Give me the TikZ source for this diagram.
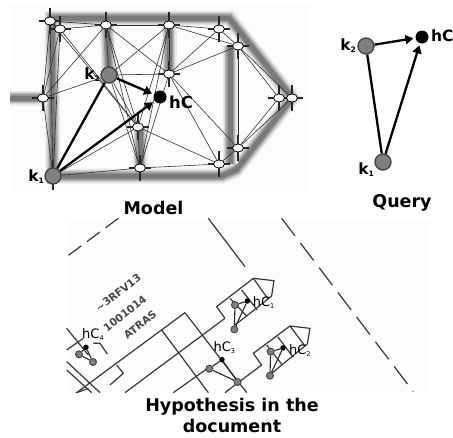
\documentclass[tikz,border=0pt]{standalone}
\usepackage{fontspec}
\setmainfont{DejaVu Sans}
\usetikzlibrary{arrows.meta,backgrounds,calc}
\definecolor{nodegrey}{RGB}{128,128,128}
\tikzset{
  wnode/.style={ellipse,draw=black,fill=white,line width=0.8pt,minimum width=11pt,minimum height=8pt,inner sep=0pt},
  knode/.style={circle,draw=black!75,fill=nodegrey,line width=1.3pt,minimum size=16pt,inner sep=0pt},
  hnode/.style={circle,fill=black,minimum size=13pt,inner sep=0pt},
  crossline/.style={line width=1.7pt,black!85},
  thinedge/.style={line width=0.6pt,black!80},
  heavy/.style={line width=2.3pt,black},
  arrowed/.style={line width=2.3pt,black,-{Triangle[length=8pt,width=9pt]},shorten >=2pt},
  klabel/.style={font=\bfseries\fontsize{15.5}{15.5}\selectfont,inner sep=0pt},
  title/.style={font=\bfseries\fontsize{17.5}{21}\selectfont,inner sep=0pt,align=center},
  docline/.style={line width=1.2pt,black!78},
  dockey/.style={circle,draw=black!75,fill=nodegrey,line width=0.9pt,minimum size=7pt,inner sep=0pt},
  dochyp/.style={circle,fill=black,minimum size=5.5pt,inner sep=0pt},
  docedge/.style={line width=1.1pt,black!85},
  doclabel/.style={font=\fontsize{13}{13}\selectfont,inner sep=0pt},
  stamp/.style={font=\bfseries\fontsize{10.5}{11}\selectfont,black!72,inner sep=0pt,rotate=38}
}
\usetikzlibrary{shapes.geometric}
\newcommand{\wallpath}[1]{%
  \begin{pgfonlayer}{background}
  \draw[black!8,line width=15pt,line join=miter] #1;
  \draw[black!16,line width=12.5pt,line join=miter] #1;
  \draw[black!27,line width=10pt,line join=miter] #1;
  \draw[black!40,line width=7.5pt,line join=miter] #1;
  \draw[black!52,line width=5pt,line join=miter] #1;
  \end{pgfonlayer}}
\newcommand{\wn}[3]{%
  \node[wnode] (#1) at (#2,#3) {};
  \begin{pgfonlayer}{background}
  \draw[crossline] (#2-11,#3) -- (#2+11,#3);
  \draw[crossline] (#2,#3-13) -- (#2,#3+13);
  \end{pgfonlayer}}
\begin{document}
\begin{tikzpicture}[x=1pt,y=-1pt]
\useasboundingbox (0,0) rectangle (453,437);
\begin{pgfonlayer}{background}
  \fill[white] (0,0) rectangle (453,437);
  \fill[black!1] (10,5) rectangle (310,192);
  \fill[black!1] (67,219) rectangle (430,392);
\end{pgfonlayer}
% walls of the model
\wallpath{(10,98) -- (45,98)}
\wallpath{(53,176) -- (52,18) -- (229,18) -- (292,98) -- (236,170) -- (222,176) -- cycle}
\wallpath{(107,25) -- (109,75)}
\wallpath{(169,25) -- (169,74)}
\wallpath{(140,127) -- (140,168)}
\wallpath{(230,46) -- (230,164)}
% model nodes
\wn{a}{50}{21}
\wn{b}{60}{29}
\wn{c}{106}{25}
\wn{d}{169}{25}
\wn{e}{219}{29}
\wn{f}{238}{46}
\wn{g}{169}{74}
\wn{h}{43}{98}
\wn{i}{279}{98}
\wn{j}{292}{98}
\wn{m}{138}{127}
\wn{l}{238}{148}
\wn{n}{219}{164}
\wn{o}{140}{168}
\node[knode] (k2) at (109,75) {};
\node[knode] (k1) at (53,176) {};
\node[hnode] (hc) at (160,97) {};
\begin{pgfonlayer}{background}
  \draw[crossline] (53,160) -- (53,190);
  \foreach \p/\q in {a/b,a/c,b/c,c/d,d/e,e/f,a/h,b/h,a/k1,b/k1,h/k1,
    b/m,a/m,c/h,c/g,c/m,c/o,c/k2,d/k2,d/m,d/o,d/f,d/g,e/g,f/g,
    h/k2,k2/g,k2/m,k2/o,g/n,g/o,g/l,m/n,m/o,k1/m,k1/o,o/n,n/l,
    f/i,f/j,f/l,l/i,l/j,i/j}
    \draw[thinedge] (\p) -- (\q);
\end{pgfonlayer}
\draw[heavy] (k1) -- (k2);
\draw[arrowed] (k2) -- (hc);
\draw[arrowed] (k1) -- (hc);
\node[klabel,anchor=east] (k2l) at (100,75) {k\raisebox{-2pt}{\fontsize{7.5}{7.5}\selectfont 2}};
\node[klabel,anchor=east] (k1l) at (44,177) {k\raisebox{-2pt}{\fontsize{7.5}{7.5}\selectfont 1}};
\node[klabel,anchor=west,font=\bfseries\fontsize{16.5}{16.5}\selectfont] (hcl) at (169,102) {hC};
\node[title] (tmodel) at (153.5,208) {Model};
% query
\node[knode] (qk2) at (366,46) {};
\node[knode] (qk1) at (383,162) {};
\node[hnode] (qh) at (422,37) {};
\draw[heavy] (qk1) -- (qk2);
\draw[arrowed] (qk2) -- (qh);
\draw[arrowed] (qk1) -- (qh);
\node[klabel,anchor=east] (qk2l) at (356,46) {k\raisebox{-2pt}{\fontsize{7.5}{7.5}\selectfont 2}};
\node[klabel,anchor=east] (qk1l) at (374,170) {k\raisebox{-2pt}{\fontsize{7.5}{7.5}\selectfont 1}};
\node[klabel,anchor=west] (qhl) at (431,36) {hC};
\node[title] (tquery) at (402,203) {Query};
% document
\begin{scope}[shift={(50,210)},x=0.3333pt,y=-0.3333pt]
  \begin{scope}
  \clip (0,25) rectangle (1109,548);
  \draw[docline,dash pattern=on 16pt off 7pt] (205,25) -- (50,140);
  \draw[docline] (475,25) -- (585,170);
  \draw[docline,dash pattern=on 22pt off 9pt] (695,25) -- (1090,545);
  % upper arrow shape
  \draw[docline,line join=round] (525,325) -- (500,290) -- (610,205) -- (672,212) -- (665,258) -- (590,318) -- (555,345);
  \draw[docline] (575,240) -- (622,300);
  \draw[docline] (610,205) -- (655,268);
  \draw[docline] (540,265) -- (590,318);
  % lower arrow shape
  \draw[docline,line join=round] (635,465) -- (610,430) -- (720,348) -- (780,355) -- (772,402) -- (665,490);
  \draw[docline] (683,380) -- (730,442);
  \draw[docline] (720,348) -- (765,408);
  \draw[docline] (650,405) -- (697,465);
  % long conduits
  \draw[docline] (405,308) -- (50,570);
  \draw[docline] (525,325) -- (225,548);
  \draw[docline] (405,308) -- (590,548);
  \draw[docline] (335,360) -- (475,548);
  \draw[docline] (635,465) -- (525,548);
  \draw[docline] (480,470) -- (370,548);
  \draw[docline] (200,465) -- (220,490) -- (180,525);
  % left fragment
  \draw[docline] (50,355) -- (115,435);
  \draw[docline] (50,455) -- (150,548);
  \draw[docline] (50,420) -- (100,385);
  \draw[docline] (50,480) -- (125,548);
  \draw[docline] (130,400) -- (150,400) -- (172,432);
  \draw[docline] (80,548) -- (115,535);
  \end{scope}
  \node[stamp] (st1) at (205,248) {\textasciitilde 3RFV13};
  \node[stamp] (st2) at (225,310) {1001014};
  \node[stamp] (st3) at (270,345) {ATRAS};
  % hC1
  \node[dockey] (ak2) at (555,285) {};
  \node[dockey] (ak1) at (553,358) {};
  \node[dochyp] (ah) at (592,273) {};
  \draw[docedge] (ak1) -- (ak2);
  \draw[docedge] (ak1) -- (ah);
  \draw[docedge] (ak2) -- (ah);
  \node[doclabel,anchor=west] (al) at (608,279) {hC\raisebox{-2pt}{\fontsize{6.5}{6.5}\selectfont 1}};
  % hC2
  \node[dockey] (bk2) at (662,425) {};
  \node[dockey] (bk1) at (660,497) {};
  \node[dochyp] (bh) at (699,414) {};
  \draw[docedge] (bk1) -- (bk2);
  \draw[docedge] (bk1) -- (bh);
  \draw[docedge] (bk2) -- (bh);
  \node[doclabel,anchor=west] (bl) at (717,421) {hC\raisebox{-2pt}{\fontsize{6.5}{6.5}\selectfont 2}};
  % hC3
  \node[dockey] (ck2) at (478,476) {};
  \node[dockey] (ck1) at (563,516) {};
  \node[dochyp] (ch) at (516,449) {};
  \draw[docedge] (ck1) -- (ck2);
  \draw[docedge] (ck1) -- (ch);
  \draw[docedge] (ck2) -- (ch);
  \node[doclabel,anchor=west] (cl) at (490,412) {hC\raisebox{-2pt}{\fontsize{6.5}{6.5}\selectfont 3}};
  % hC4
  \node[dockey] (dk2) at (87,433) {};
  \node[dockey] (dk1) at (129,456) {};
  \node[dochyp] (dh) at (108,412) {};
  \draw[docedge] (dk1) -- (dk2);
  \draw[docedge] (dk1) -- (dh);
  \draw[docedge] (dk2) -- (dh);
  \node[doclabel,anchor=west] (dl) at (96,375) {hC\raisebox{-2pt}{\fontsize{6.5}{6.5}\selectfont 4}};
\end{scope}
\node[title] (tdoc) at (232,415.5) {Hypothesis in the\\document};
\end{tikzpicture}
\end{document}
